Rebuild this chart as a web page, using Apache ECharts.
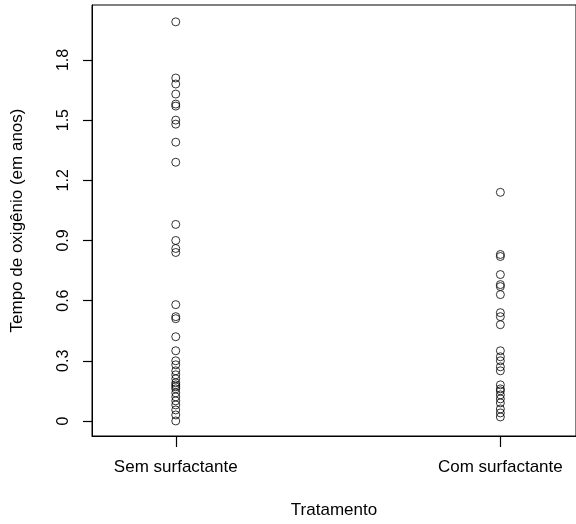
<!DOCTYPE html>
<html>
<head>
<meta charset="utf-8">
<script src="https://cdn.jsdelivr.net/npm/echarts@6/dist/echarts.min.js"></script>
<style>
html,body{margin:0;padding:0;background:#fff;}
#chart{width:576px;height:524px;}
</style>
</head>
<body>
<div id="chart"></div>
<script>
// Data
const categories = ["Sem surfactante", "Com surfactante"];
const semValues = [1.99, 1.71, 1.68, 1.63, 1.58, 1.57, 1.50, 1.48, 1.39, 1.29,
  0.98, 0.90, 0.86, 0.84, 0.58, 0.52, 0.51, 0.42, 0.35, 0.30, 0.28, 0.25, 0.23,
  0.21, 0.19, 0.18, 0.17, 0.16, 0.14, 0.12, 0.10, 0.08, 0.055, 0.03, 0.0];
const comValues = [1.14, 0.83, 0.82, 0.73, 0.68, 0.67, 0.63, 0.54, 0.52, 0.48,
  0.35, 0.32, 0.30, 0.27, 0.25, 0.18, 0.16, 0.15, 0.13, 0.11, 0.09, 0.06, 0.04, 0.02];
const xTickValues = [1, 2];
const yTicks = [0, 0.3, 0.6, 0.9, 1.2, 1.5, 1.8];
const yTickLabels = ["0", "0.3", "0.6", "0.9", "1.2", "1.5", "1.8"];
const xTitle = "Tratamento";
const yTitle = "Tempo de oxigênio (em anos)";

const groups = [semValues, comValues];
const points = [];
groups.forEach((vals, gi) => vals.forEach(v => points.push([gi + 1, v])));

const font = "'Liberation Sans', Arial, Helvetica, sans-serif";
const chart = echarts.init(document.getElementById('chart'));
chart.setOption({
  animation: false,
  grid: {left: 92, top: 5, right: -2, bottom: 88, show: true, borderColor: '#000', borderWidth: 1},
  xAxis: {
    type: 'value', min: 0.742, max: 2.233,
    axisLine: {show: true, onZero: false, lineStyle: {color: '#000', width: 1}},
    splitLine: {show: false},
    axisTick: {show: true, length: 11, lineStyle: {color: '#000', width: 1.2}, customValues: xTickValues},
    axisLabel: {customValues: xTickValues, margin: 23, color: '#000', fontSize: 17, fontFamily: font,
      formatter: v => categories[Math.round(v) - 1] || ''},
    name: xTitle, nameLocation: 'middle', nameGap: 66,
    nameTextStyle: {color: '#000', fontSize: 17, fontFamily: font}
  },
  yAxis: {
    type: 'value', min: -0.075, max: 2.074,
    axisLine: {show: true, onZero: false, lineStyle: {color: '#000', width: 1}},
    splitLine: {show: false},
    axisTick: {show: true, length: 9, lineStyle: {color: '#000', width: 1.2}, customValues: yTicks},
    axisLabel: {customValues: yTicks, rotate: 90, margin: 20, color: '#000', fontSize: 16, fontFamily: font,
      formatter: v => { const i = yTicks.findIndex(t => Math.abs(t - v) < 1e-6); return i >= 0 ? yTickLabels[i] : ''; }},
    name: yTitle, nameLocation: 'middle', nameGap: 66, nameRotate: 90,
    nameTextStyle: {color: '#000', fontSize: 17, fontFamily: font}
  },
  series: [{
    type: 'scatter',
    data: points,
    symbol: 'circle',
    symbolSize: 8,
    itemStyle: {color: 'rgba(0,0,0,0)', borderColor: '#000', borderWidth: 1},
    emphasis: {disabled: true}
  }]
});
</script>
</body>
</html>
